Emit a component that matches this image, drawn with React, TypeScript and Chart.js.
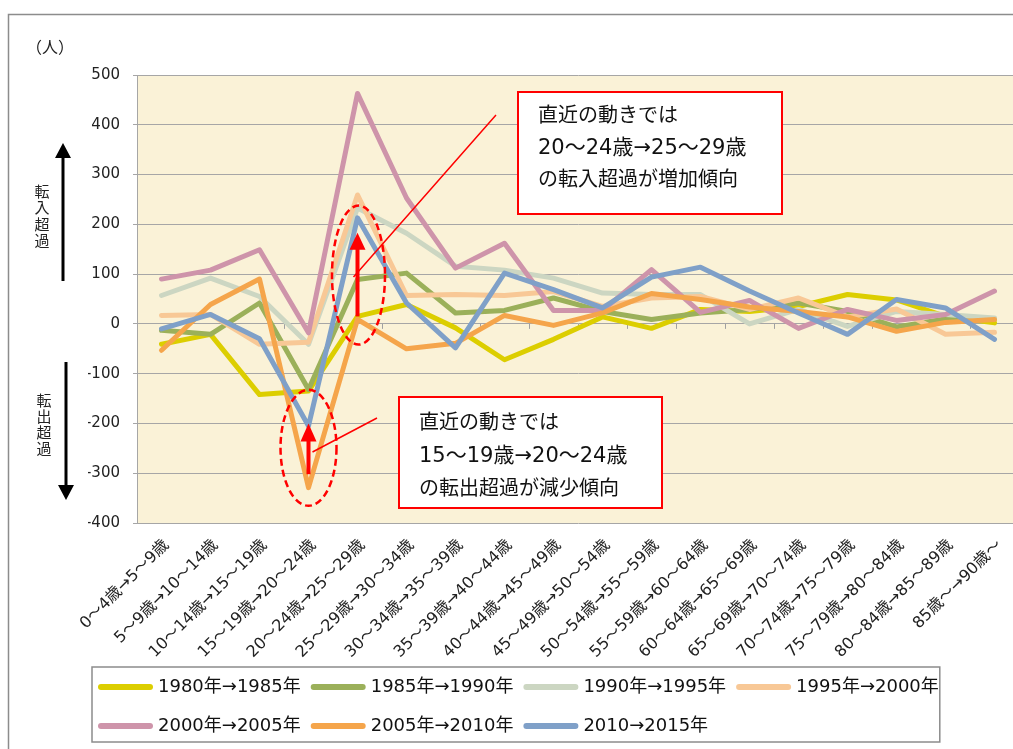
import React, { useEffect, useRef } from "react";
import { Chart, registerables } from "chart.js";

Chart.register(...registerables);

const FONT = "'DejaVu Sans', 'Noto Sans CJK JP', sans-serif";

// ---- data ----
const categories = [
  "0～4歳→5～9歳",
  "5～9歳→10～14歳",
  "10～14歳→15～19歳",
  "15～19歳→20～24歳",
  "20～24歳→25～29歳",
  "25～29歳→30～34歳",
  "30～34歳→35～39歳",
  "35～39歳→40～44歳",
  "40～44歳→45～49歳",
  "45～49歳→50～54歳",
  "50～54歳→55～59歳",
  "55～59歳→60～64歳",
  "60～64歳→65～69歳",
  "65～69歳→70～74歳",
  "70～74歳→75～79歳",
  "75～79歳→80～84歳",
  "80～84歳→85～89歳",
  "85歳～→90歳～",
];

const seriesNames = [
  "1980年→1985年",
  "1985年→1990年",
  "1990年→1995年",
  "1995年→2000年",
  "2000年→2005年",
  "2005年→2010年",
  "2010→2015年",
];

const seriesColors = [
  "#DCCE00",
  "#9BB05A",
  "#CCD6C2",
  "#F8C896",
  "#CE94AA",
  "#F5A54B",
  "#7FA0C8",
];

const v1980 = [-41, -21, -142, -135, 15, 39, -8, -72, -31, 14, -9, 29, 25, 35, 59, 48, 15, 2];
const v1985 = [-13, -21, 42, -132, 89, 102, 22, 27, 52, 25, 9, 22, 29, 42, 25, -6, 10, 10];
const v1990 = [57, 92, 55, -41, 233, 182, 116, 108, 92, 62, 59, 59, 0, 29, -5, 25, 19, 12];
const v1995 = [17, 19, -41, -37, 259, 57, 59, 57, 65, 35, 52, 55, 29, 52, 14, 30, -21, -17];
const v2000 = [90, 108, 149, -18, 463, 253, 112, 162, 27, 27, 109, 23, 47, -9, 29, 7, 19, 66];
const v2005 = [-53, 39, 90, -329, 9, -50, -39, 17, -3, 22, 61, 49, 34, 25, 14, -15, 3, 9];
const v2010 = [-10, 19, -30, -205, 213, 42, -48, 102, 69, 32, 94, 114, 66, 22, -21, 49, 32, -31];

const seriesValues = [v1980, v1985, v1990, v1995, v2000, v2005, v2010];

const yMin = -400;
const yMax = 500;
const yStep = 100;

const unitLabel = "（人）";
const inLabel = ["転", "入", "超", "過"];
const outLabel = ["転", "出", "超", "過"];
const note1 = ["直近の動きでは", "20～24歳→25～29歳", "の転入超過が増加傾向"];
const note2 = ["直近の動きでは", "15～19歳→20～24歳", "の転出超過が減少傾向"];

// ---- drawing helpers ----
function arrowV(ctx: CanvasRenderingContext2D, x: number, yFrom: number, yTip: number, color: string, lw: number, headW: number, headL: number) {
  const dir = yTip < yFrom ? -1 : 1;
  ctx.save();
  ctx.strokeStyle = color;
  ctx.fillStyle = color;
  ctx.lineWidth = lw;
  ctx.beginPath();
  ctx.moveTo(x, yFrom);
  ctx.lineTo(x, yTip - dir * headL * 0.8);
  ctx.stroke();
  ctx.beginPath();
  ctx.moveTo(x, yTip);
  ctx.lineTo(x - headW / 2, yTip - dir * headL);
  ctx.lineTo(x + headW / 2, yTip - dir * headL);
  ctx.closePath();
  ctx.fill();
  ctx.restore();
}

function noteBox(ctx: CanvasRenderingContext2D, x: number, y: number, w: number, h: number, lines: string[], tx: number, ty: number, lh: number) {
  ctx.save();
  ctx.fillStyle = "#FFFFFF";
  ctx.fillRect(x, y, w, h);
  ctx.strokeStyle = "#FF0000";
  ctx.lineWidth = 2;
  ctx.strokeRect(x, y, w, h);
  ctx.fillStyle = "#111111";
  ctx.textAlign = "left";
  ctx.textBaseline = "middle";
  lines.forEach((t, i) => {
    ctx.font = `${i === 1 ? 21 : 20}px ${FONT}`;
    ctx.fillText(t, tx, ty + i * lh);
  });
  ctx.restore();
}

function dashedEllipse(ctx: CanvasRenderingContext2D, cx: number, cy: number, rx: number, ry: number) {
  ctx.save();
  ctx.strokeStyle = "#FF0000";
  ctx.lineWidth = 2.5;
  ctx.setLineDash([7, 4]);
  ctx.beginPath();
  ctx.ellipse(cx, cy, rx, ry, 0, 0, Math.PI * 2);
  ctx.stroke();
  ctx.restore();
}

const decorPlugin = {
  id: "decor",
  beforeDraw(chart: any) {
    const { ctx, chartArea: a } = chart;
    ctx.save();
    ctx.fillStyle = "#FFFFFF";
    ctx.fillRect(0, 0, chart.width, chart.height);
    ctx.fillStyle = "#FAF2D7";
    ctx.fillRect(a.left, a.top, a.right - a.left, a.bottom - a.top);
    ctx.restore();
  },
  beforeDatasetsDraw(chart: any) {
    const { ctx } = chart;
    const xs = chart.scales.x;
    const ys = chart.scales.y;
    const y0 = ys.getPixelForValue(0);
    const n = categories.length;
    const step = (xs.right - xs.left) / n;
    ctx.save();
    ctx.strokeStyle = "#A0A0A0";
    ctx.lineWidth = 1;
    ctx.beginPath();
    for (let i = 1; i < n; i++) {
      const x = Math.round(xs.left + i * step) + 0.5;
      ctx.moveTo(x, y0);
      ctx.lineTo(x, y0 + 5);
    }
    ctx.stroke();
    ctx.restore();
  },
  afterDraw(chart: any) {
    const { ctx } = chart;
    const xs = chart.scales.x;
    const ys = chart.scales.y;

    // legend line samples + frame
    const lg = chart.legend;
    const hbs = lg.legendHitBoxes;
    ctx.save();
    hbs.forEach((hb: any, i: number) => {
      const ds = chart.data.datasets[i];
      ctx.strokeStyle = ds.borderColor;
      ctx.lineWidth = 6;
      ctx.lineCap = "round";
      ctx.beginPath();
      const cy = hb.top + hb.height / 2;
      ctx.moveTo(hb.left + 3, cy);
      ctx.lineTo(hb.left + 52, cy);
      ctx.stroke();
    });
    const lastRow1 = hbs[3];
    ctx.strokeStyle = "#8C8C8C";
    ctx.lineWidth = 1.5;
    ctx.strokeRect(lg.left + 4, lg.top + 4.5, lastRow1.left + lastRow1.width + 1 - (lg.left + 4), 75);
    ctx.restore();

    // outer frame
    ctx.save();
    ctx.strokeStyle = "#8C8C8C";
    ctx.lineWidth = 1.5;
    ctx.beginPath();
    ctx.moveTo(8.5, chart.height + 10);
    ctx.lineTo(8.5, 14.5);
    ctx.lineTo(chart.width + 10, 14.5);
    ctx.stroke();
    ctx.restore();

    // unit label
    ctx.save();
    ctx.fillStyle = "#222";
    ctx.font = `16px ${FONT}`;
    ctx.textBaseline = "middle";
    ctx.textAlign = "left";
    ctx.fillText(unitLabel, 26, 49);
    // vertical labels
    ctx.textAlign = "center";
    ctx.font = `15px ${FONT}`;
    inLabel.forEach((c, i) => ctx.fillText(c, 42, 193 + i * 16.5));
    outLabel.forEach((c, i) => ctx.fillText(c, 44, 402 + i * 16));
    ctx.restore();

    // black arrows
    arrowV(ctx, 63, 281, 143, "#000", 3, 16, 15);
    arrowV(ctx, 66, 362, 500, "#000", 3, 16, 15);

    // highlight ellipses and red arrows
    const x4 = xs.getPixelForValue(4);
    const x3 = xs.getPixelForValue(3);
    dashedEllipse(ctx, x4 + 1, ys.getPixelForValue(98), 26.5, 69.5);
    dashedEllipse(ctx, x3, ys.getPixelForValue(-249), 28, 58);
    arrowV(ctx, x4, ys.getPixelForValue(15), ys.getPixelForValue(183), "#FF0000", 4, 16, 17);
    arrowV(ctx, x3, ys.getPixelForValue(-302), ys.getPixelForValue(-200), "#FF0000", 4, 16, 18);

    // connectors
    ctx.save();
    ctx.strokeStyle = "#FF0000";
    ctx.lineWidth = 1.5;
    ctx.beginPath();
    ctx.moveTo(496, 115);
    ctx.lineTo(x4 - 4, 277);
    ctx.moveTo(377, 418);
    ctx.lineTo(x3 + 4, 452);
    ctx.stroke();
    ctx.restore();

    // note boxes
    noteBox(ctx, 518, 92, 264, 122, note1, 538, 117, 32);
    noteBox(ctx, 399, 397, 263, 111, note2, 419, 424, 33);
  },
};

export default function App() {
  const ref = useRef<HTMLCanvasElement | null>(null);

  useEffect(() => {
    if (!ref.current) return;
    const chart = new Chart(ref.current, {
      type: "line",
      data: {
        labels: categories,
        datasets: seriesNames.map((name, i) => ({
          label: name,
          data: seriesValues[i],
          borderColor: seriesColors[i],
          backgroundColor: seriesColors[i],
          borderWidth: 5,
          pointRadius: 0,
          pointHoverRadius: 0,
          tension: 0,
          borderJoinStyle: "round" as const,
          borderCapStyle: "round" as const,
          fill: false,
          order: seriesNames.length - i,
        })),
      },
      options: {
        responsive: false,
        animation: false,
        devicePixelRatio: 1,
        layout: { padding: { left: 88, right: 11, top: 75, bottom: 9.5 } },
        plugins: {
          title: { display: false },
          tooltip: { enabled: false },
          legend: {
            display: true,
            position: "bottom",
            align: "start",
            labels: {
              boxWidth: 51,
              boxHeight: 29,
              padding: 10,
              color: "#111",
              font: { family: FONT, size: 18 },
              generateLabels: (c: any) =>
                c.data.datasets.map((ds: any, i: number) => ({
                  text: ds.label,
                  fillStyle: "rgba(0,0,0,0)",
                  strokeStyle: "rgba(0,0,0,0)",
                  lineWidth: 0,
                  hidden: false,
                  datasetIndex: i,
                  fontColor: "#111",
                })),
            },
          },
        },
        scales: {
          x: {
            type: "category",
            offset: true,
            grid: { display: false, drawTicks: false },
            border: { display: false },
            ticks: {
              autoSkip: false,
              maxRotation: 45,
              minRotation: 45,
              padding: 13,
              labelOffset: 5,
              color: "#222",
              font: { family: FONT, size: 16 },
            },
            afterFit: (s: any) => {
              s.height = 139.5;
            },
          },
          y: {
            min: yMin,
            max: yMax,
            ticks: {
              stepSize: yStep,
              padding: 13,
              color: "#222",
              font: { family: FONT, size: 15 },
            },
            grid: { color: "#A6A6A6", lineWidth: 1, tickLength: 4, drawTicks: true },
            border: { display: true, color: "#A6A6A6", width: 1 },
            afterFit: (s: any) => {
              s.width = 49;
            },
          },
        },
      },
      plugins: [decorPlugin],
    });
    return () => chart.destroy();
  }, []);

  return (
    <div
      style={{
        position: "fixed",
        left: 0,
        top: 0,
        width: 1013,
        height: 749,
        overflow: "hidden",
        background: "#fff",
      }}
    >
      <canvas ref={ref} width={1030} height={760} style={{ width: 1030, height: 760, display: "block" }} />
    </div>
  );
}
